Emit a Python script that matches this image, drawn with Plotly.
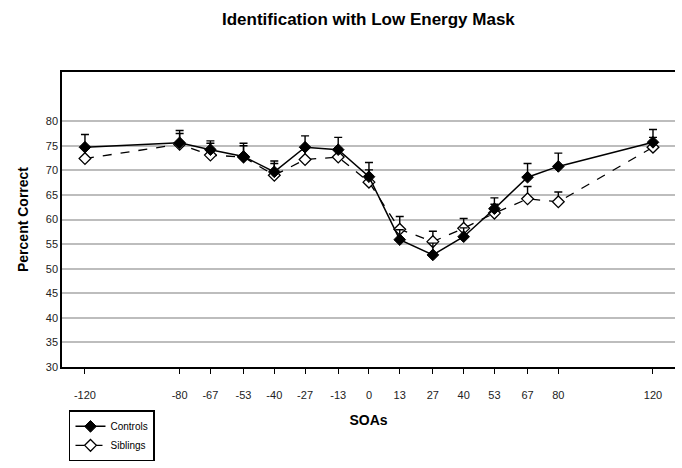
import plotly.graph_objects as go

soa = [-120, -80, -67, -53, -40, -27, -13, 0, 13, 27, 40, 53, 67, 80, 120]
soa_labels = ["-120", "-80", "-67", "-53", "-40", "-27", "-13", "0", "13", "27", "40", "53", "67", "80", "120"]

controls = [74.7, 75.6, 74.2, 72.8, 69.7, 74.7, 74.2, 68.7, 55.9, 52.8, 56.5, 62.2, 68.6, 70.8, 75.7]
controls_err = [2.6, 2.5, 1.8, 2.7, 2.2, 2.3, 2.5, 2.9, 2.0, 2.4, 1.8, 2.2, 2.8, 2.7, 2.6]

siblings = [72.4, 75.3, 73.1, 72.7, 69.0, 72.2, 72.7, 67.6, 58.0, 55.5, 58.2, 61.3, 64.2, 63.6, 74.7]
siblings_err = [2.3, 2.2, 2.4, 2.3, 2.4, 2.3, 1.8, 2.5, 2.6, 2.1, 2.0, 1.8, 2.5, 2.0, 2.0]

y_ticks = [30, 35, 40, 45, 50, 55, 60, 65, 70, 75, 80]

FONT = "Arial, Liberation Sans, sans-serif"

fig = go.Figure()

fig.add_trace(go.Scatter(
    x=soa, y=siblings, name="Siblings", mode="lines+markers",
    line=dict(color="black", width=1.3, dash="dash"),
    marker=dict(symbol="diamond", size=9, color="white", line=dict(color="black", width=1.3)),
    error_y=dict(type="data", symmetric=False, array=siblings_err,
                 arrayminus=[0] * len(siblings_err), color="black", thickness=1.4, width=4),
))
fig.add_trace(go.Scatter(
    x=soa, y=controls, name="Controls", mode="lines+markers",
    line=dict(color="black", width=1.5),
    marker=dict(symbol="diamond", size=9, color="black", line=dict(color="black", width=1)),
    error_y=dict(type="data", symmetric=False, array=controls_err,
                 arrayminus=[0] * len(controls_err), color="black", thickness=1.4, width=4),
))

fig.update_layout(
    width=682, height=468,
    margin=dict(l=62, r=7, t=72, b=90),
    paper_bgcolor="white", plot_bgcolor="white",
    font=dict(family=FONT, color="black"),
    showlegend=True,
    legend=dict(
        x=0.0114, y=-0.147, xanchor="left", yanchor="top",
        bordercolor="black", borderwidth=1.5, bgcolor="white",
        traceorder="reversed",
        font=dict(size=10, family=FONT),
        itemwidth=30, tracegroupgap=0,
        entrywidth=110, entrywidthmode="pixels",
    ),
    annotations=[
        dict(text="<b>Identification with Low Energy Mask</b>",
             x=(369 - 62) / 613, y=(378 - 18) / 306, xanchor="center", yanchor="middle",
             xref="paper", yref="paper", showarrow=False, font=dict(size=17, family=FONT)),
    ],
)

fig.update_xaxes(
    range=[-129.7, 129.3],
    tickmode="array", tickvals=soa, ticktext=soa_labels,
    ticks="outside", ticklen=5, tickwidth=1.2, tickcolor="black",
    ticklabelstandoff=12,
    showgrid=False, zeroline=False,
    showline=True, linecolor="black", linewidth=1.5, mirror=True,
    tickfont=dict(size=11, color="#222"),
    title=dict(text="<b>SOAs</b>", font=dict(size=14), standoff=15),
)
fig.update_yaxes(
    range=[30, 90],
    tickmode="array", tickvals=y_ticks,
    ticks="", showgrid=True, gridcolor="#bdbdbd", gridwidth=1.5,
    zeroline=False,
    showline=True, linecolor="black", linewidth=1.5,
    tickfont=dict(size=11, color="#222"),
    title=dict(text="<b>Percent Correct</b>", font=dict(size=14), standoff=14),
)

fig.write_html("out.html")
